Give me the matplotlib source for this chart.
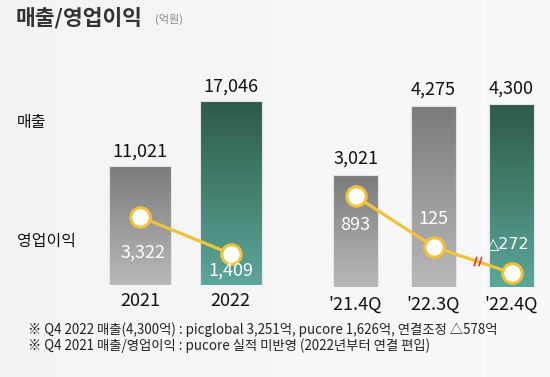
import numpy as np
import matplotlib.pyplot as plt
from matplotlib.path import Path

plt.rcParams['font.family'] = ['Noto Sans CJK KR', 'DejaVu Sans']

# yearly
years = ["2021", "2022"]
sales_year = [11021, 17046]
op_year = [3322, 1409]
op_year_labels = ["3,322", "1,409"]

# quarterly
quarters = ["'21.4Q", "'22.3Q", "'22.4Q"]
sales_q = [3021, 4275, 4300]
op_q = [893, 125, -272]
op_q_labels = ["893", "125", "△272"]

title = "매출/영업이익"
unit = "(억원)"
notes = ["※ Q4 2022 매출(4,300억) : picglobal 3,251억, pucore 1,626억, 연결조정 △578억",
         "※ Q4 2021 매출/영업이익 : pucore 실적 미반영 (2022년부터 연결 편입)"]

GRAY = ("#7b7b7b", "#b9b9b9")
GREEN = ("#2e5a48", "#5ba799")
GOLD = "#f0c23a"
W, H = 550, 377


def px_axes(fig, x0, y0, x1, y1):
    # pixel box (top-left origin) -> figure axes
    return fig.add_axes([x0 / W, 1 - y1 / H, (x1 - x0) / W, (y1 - y0) / H])


def grad_bars(ax, xs, vals, width, colors):
    bars = ax.bar(xs, vals, width=width, color="none", edgecolor="#e4e4e4", linewidth=0.8, zorder=2)
    for b, (top, bot) in zip(bars, colors):
        x0 = b.get_x()
        g = np.linspace(0, 1, 256).reshape(-1, 1)
        c0 = np.array(plt.matplotlib.colors.to_rgb(top))
        c1 = np.array(plt.matplotlib.colors.to_rgb(bot))
        img = c0 + (c1 - c0) * g[..., None]
        im = ax.imshow(img, extent=[x0, x0 + b.get_width(), ax.get_ylim()[0], b.get_height()],
                       origin="upper", aspect="auto", zorder=1)
        im.set_clip_path(b)
    return bars


def value_labels(ax, xs, vals, texts, dy):
    for x, v, t in zip(xs, vals, texts):
        ax.annotate(t, (x, v), xytext=(0, dy), textcoords="offset points",
                    ha="center", va="bottom", fontsize=13, color="#111111")


fig = plt.figure(figsize=(5.5, 3.77), dpi=100)
# background
bg = fig.add_axes([0, 0, 1, 1], zorder=-5)
bgimg = np.linspace(0.955, 0.975, 256).reshape(1, -1)
bg.imshow(np.dstack([bgimg, bgimg, bgimg * 1.005]).clip(0, 1), aspect="auto", extent=[0, 1, 0, 1])
bg.axis("off")

# yearly panel
ax1 = px_axes(fig, 95, 60, 276, 285)
ax1.set_xlim(-0.5, 1.5)
ax1.set_ylim(0, 20833)
x1 = np.arange(len(years))
grad_bars(ax1, x1, sales_year, 0.685, [GRAY, GREEN])
value_labels(ax1, x1, sales_year, [f"{v:,}" for v in sales_year], 4)
ax1.axis("off")
for x, t in zip(x1, years):
    ax1.text(x, -0.07, t, transform=ax1.get_xaxis_transform(), ha="center", va="center",
             fontsize=13, color="#111111")

ax1b = ax1.twinx()
ax1b.set_ylim(-207, 11451)
ax1b.plot(x1, op_year, color=GOLD, lw=2.3, marker="o", ms=14, mfc="white", mec=GOLD, mew=2.2, zorder=5)
for x, v, t in zip(x1, op_year, op_year_labels):
    ax1b.annotate(t, (x, v), xytext=(2 if x == 0 else 0, -26 if x == 0 else -12), textcoords="offset points",
                  ha="center", va="center", fontsize=13, color="white", zorder=6)
ax1b.axis("off")

# quarterly panel
ax2 = px_axes(fig, 316.5, 60, 550.5, 287)
ax2.set_xlim(-0.5, 2.5)
ax2.set_ylim(982, 5109)
x2 = np.arange(len(quarters))
grad_bars(ax2, x2, sales_q, 0.58, [GRAY, GRAY, GREEN])
value_labels(ax2, x2, sales_q, [f"{v:,}" for v in sales_q], 5)
ax2.axis("off")
for x, t in zip(x2, quarters):
    ax2.text(x, -0.08, t, transform=ax2.get_xaxis_transform(), ha="center", va="center",
             fontsize=13, color="#111111")

ax2b = ax2.twinx()
ax2b.set_ylim(-485, 2954)
ax2b.plot(x2, op_q, color=GOLD, lw=2.3, marker="o", ms=14, mfc="white", mec=GOLD, mew=2.2, zorder=5)
offs = [(0, -21), (0, 20), (-2, 21)]
for x, v, t, o in zip(x2, op_q, op_q_labels, offs):
    fam = ['DejaVu Sans'] if t.startswith("△") else None
    ax2b.annotate(t, (x, v), xytext=o, textcoords="offset points", family=fam,
                  ha="center", va="center", fontsize=13 if fam is None else 11.5, color="white", zorder=6)
# break mark between 3Q and 4Q
brk = Path([(-0.3, -1), (0.3, 1), (0.7, -1), (1.3, 1)],
           [Path.MOVETO, Path.LINETO, Path.MOVETO, Path.LINETO])
ax2b.plot([1.53], [(op_q[1] + op_q[2]) / 2 - 20], marker=brk, ms=9, mec="#e8352b", mew=1.2,
          ls="none", zorder=7)
ax2b.axis("off")

# texts
fig.text(16 / W, 1 - 18 / H, title, fontsize=15.5, fontweight="bold", color="#333333", va="center")
fig.text(155 / W, 1 - 19 / H, unit, fontsize=8, color="#888888", va="center")
fig.text(17 / W, 1 - 122 / H, "매출", fontsize=11.5, color="#111111", va="center")
fig.text(17 / W, 1 - 242 / H, "영업이익", fontsize=11.5, color="#111111", va="center")
for i, n in enumerate(notes):
    fig.text(28 / W, 1 - (330 + 16 * i) / H, n, fontsize=9.6, color="#222222", va="center",
             family=['Noto Sans CJK KR', 'DejaVu Sans'])

fig.savefig("out.png", dpi=100)
